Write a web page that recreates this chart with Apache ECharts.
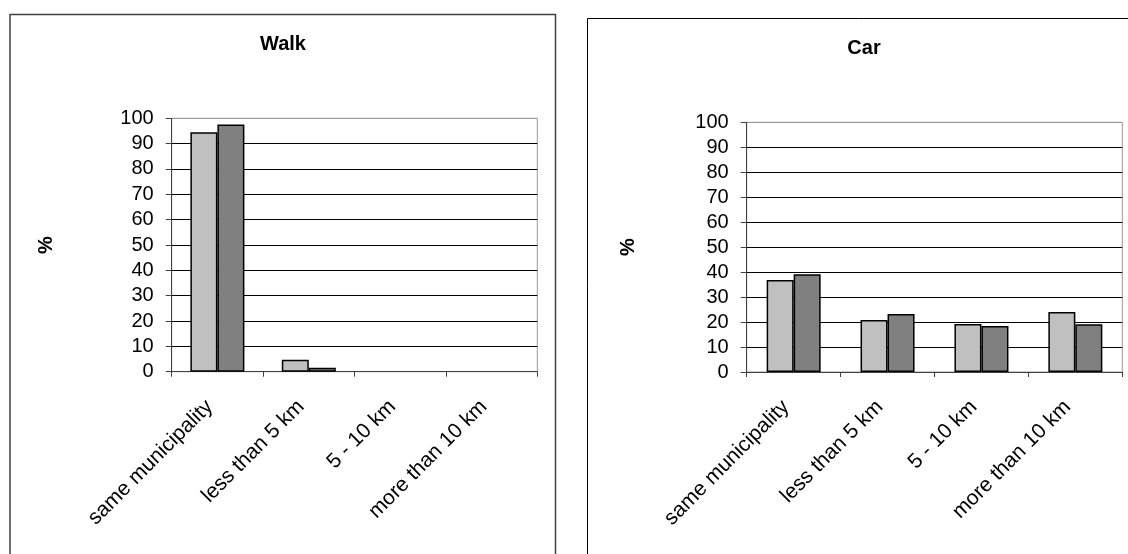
<!DOCTYPE html>
<html>
<head>
<meta charset="utf-8">
<title>Walk / Car</title>
<script src="https://cdn.jsdelivr.net/npm/echarts@6/dist/echarts.min.js"></script>
<style>
    html, body { margin: 0; padding: 0; background: #fff; }
    #chart { width: 1128px; height: 554px; }
</style>
</head>
<body>
<div id="chart"></div>
<script>
var categories = ['same municipality', 'less than 5 km', '5 - 10 km', 'more than 10 km'];
var walkLight = [94.5, 4.7, 0, 0];
var walkDark = [97.6, 1.6, 0, 0];
var carLight = [36.8, 20.8, 19.2, 24.0];
var carDark = [39.1, 23.2, 18.4, 19.1];
var yMin = 0;
var yMax = 100;
var yStep = 10;

var FONT = 'Liberation Sans, Arial, sans-serif';
var LIGHT = '#c0c0c0';
var DARK = '#808080';

// black grid lines, the top one (at 100) is the grey plot frame
var splitColors = [];
for (var v = yMin; v <= yMax; v += yStep) {
    splitColors.push(v === yMax ? '#999999' : '#000000');
}

function makeGrid(left, top, width, height) {
    return {
        left: left, top: top, width: width, height: height,
        show: true, borderColor: '#999999', borderWidth: 1,
        backgroundColor: 'transparent',
        outerBoundsMode: 'none'
    };
}

function makeX(idx) {
    return {
        type: 'category', gridIndex: idx, data: categories,
        axisLine: { lineStyle: { color: '#404040', width: 1 } },
        axisTick: { show: true, length: 5, lineStyle: { color: '#404040' } },
        axisLabel: {
            rotate: 45, margin: 24, interval: 0, padding: [0, 11, 0, 0],
            color: '#000', fontSize: 21, fontFamily: FONT
        },
        splitLine: { show: false }
    };
}

function makeY(idx, gap) {
    return {
        type: 'value', gridIndex: idx, min: yMin, max: yMax, interval: yStep,
        name: '%', nameLocation: 'middle', nameRotate: 90, nameGap: gap,
        nameTextStyle: { color: '#000', fontSize: 20, fontWeight: 'bold', fontFamily: FONT },
        axisLine: { show: true, lineStyle: { color: '#404040', width: 1 } },
        axisTick: { show: true, length: 6, lineStyle: { color: '#404040' } },
        axisLabel: { margin: 18, color: '#000', fontSize: 20, fontFamily: FONT },
        splitLine: { show: true, lineStyle: { color: splitColors, width: 1 } }
    };
}

// zero-height bars are not outlined in the original
function toItems(values) {
    return values.map(function (val) {
        return val === 0 ? { value: 0, itemStyle: { borderWidth: 0 } } : val;
    });
}

function makeBar(name, idx, data, color) {
    return {
        name: name, type: 'bar', xAxisIndex: idx, yAxisIndex: idx,
        data: toItems(data), barWidth: 27, barGap: '0%',
        itemStyle: { color: color, borderColor: '#000', borderWidth: 1.5 },
        silent: true, animation: false
    };
}

var myChart = echarts.init(document.getElementById('chart'), null, { renderer: 'canvas' });

var option = {
    backgroundColor: '#ffffff',
    animation: false,
    grid: [
        makeGrid(171.7, 118.3, 365.6, 253.4),
        makeGrid(746.7, 122.3, 375.6, 249.7)
    ],
    xAxis: [makeX(0), makeX(1)],
    yAxis: [makeY(0, 115), makeY(1, 108)],
    series: [
        makeBar('Series 1', 0, walkLight, LIGHT),
        makeBar('Series 2', 0, walkDark, DARK),
        makeBar('Series 1', 1, carLight, LIGHT),
        makeBar('Series 2', 1, carDark, DARK)
    ],
    graphic: [
        {
            type: 'rect', silent: true, z: -1,
            shape: { x: 10, y: 14.5, width: 545.5, height: 600 },
            style: { fill: 'none', stroke: '#404040', lineWidth: 1.5 }
        },
        {
            type: 'rect', silent: true, z: -1,
            shape: { x: 587.5, y: 18.5, width: 600, height: 600 },
            style: { fill: 'none', stroke: '#000000', lineWidth: 1 }
        },
        {
            type: 'text', x: 283, y: 44, silent: true,
            style: {
                text: 'Walk', fill: '#000', font: 'bold 20px ' + FONT,
                textAlign: 'center', textVerticalAlign: 'middle'
            }
        },
        {
            type: 'text', x: 864, y: 48, silent: true,
            style: {
                text: 'Car', fill: '#000', font: 'bold 20px ' + FONT,
                textAlign: 'center', textVerticalAlign: 'middle'
            }
        }
    ]
};
myChart.setOption(option);
</script>
</body>
</html>
